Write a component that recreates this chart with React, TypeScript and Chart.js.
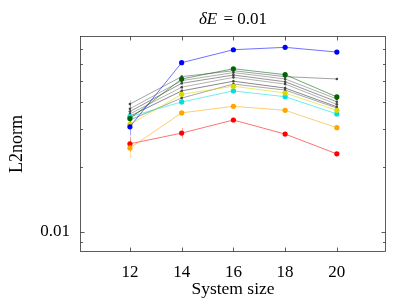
import React, { useEffect, useRef } from 'react';
import { Chart, registerables } from 'chart.js';

Chart.register(...registerables);

const systemSizes = [12, 14, 16, 18, 20];
const xTickValues = [12, 14, 16, 18, 20];
const yLabelTicks = [0.01];
const yMinorTicks = [0.009, 0.02, 0.03, 0.04, 0.05, 0.06, 0.07, 0.08];

const blueSeries = [0.0307, 0.0608, 0.0698, 0.0716, 0.0681];
const greenSeries = [0.0335, 0.0511, 0.057, 0.0535, 0.0422];
const yellowSeries = [0.0315, 0.0434, 0.0473, 0.044, 0.0366];
const cyanSeries = [0.0342, 0.04, 0.045, 0.0423, 0.0352];
const orangeSeries = [0.0245, 0.0356, 0.0382, 0.0366, 0.0304];
const redSeries = [0.0256, 0.0287, 0.033, 0.0284, 0.023];

const gray1 = [0.0391, 0.0524, 0.0558, 0.0524, 0.0511];
const gray2 = [0.0372, 0.0502, 0.0547, 0.0511, 0.0413];
const gray3 = [0.0361, 0.0488, 0.0533, 0.0496, 0.0401];
const gray4 = [0.0352, 0.0468, 0.052, 0.0484, 0.039];
const gray5 = [0.0344, 0.045, 0.0499, 0.0464, 0.038];
const gray6 = [0.033, 0.0417, 0.0484, 0.0454, 0.0375];

const blueErr = [0.0027, 0, 0, 0, 0];
const orangeErr = [0.0025, 0, 0, 0, 0];
const redErr = [0.002, 0.0016, 0, 0, 0];
const grayErr = [0.0015, 0.0009, 0.0009, 0.0009, 0];

const SERIF = '"Liberation Serif", "Times New Roman", serif';

function hexA(hex: string, a: number) {
  const n = parseInt(hex.slice(1), 16);
  return `rgba(${(n >> 16) & 255},${(n >> 8) & 255},${n & 255},${a})`;
}

function colored(data: number[], color: string, err: number[] | null) {
  return {
    data: data.map((y, i) => ({ x: systemSizes[i], y })),
    borderColor: hexA(color, 0.7),
    backgroundColor: color,
    pointBackgroundColor: color,
    pointBorderColor: color,
    borderWidth: 0.8,
    pointRadius: 2.6,
    pointBorderWidth: 0,
    tension: 0,
    err,
    errColor: color,
  };
}

function grayLine(data: number[], color: string) {
  return {
    data: data.map((y, i) => ({ x: systemSizes[i], y })),
    borderColor: color,
    backgroundColor: '#444',
    pointBackgroundColor: '#444',
    pointBorderColor: '#444',
    borderWidth: 0.8,
    pointRadius: 1.3,
    pointBorderWidth: 0,
    tension: 0,
    err: grayErr,
    errColor: '#555',
  };
}

const errorBars = {
  id: 'errorBars',
  beforeDatasetsDraw(chart: any) {
    const { ctx, scales } = chart;
    ctx.save();
    chart.data.datasets.forEach((ds: any) => {
      if (!ds.err) return;
      ctx.strokeStyle = ds.errColor;
      ctx.globalAlpha = 0.35;
      ctx.lineWidth = 1;
      ctx.beginPath();
      ds.data.forEach((p: any, i: number) => {
        const e = ds.err[i];
        if (!e) return;
        const px = Math.round(scales.x.getPixelForValue(p.x)) + 0.5;
        ctx.moveTo(px, scales.y.getPixelForValue(p.y + e));
        ctx.lineTo(px, scales.y.getPixelForValue(p.y - e));
      });
      ctx.stroke();
    });
    ctx.restore();
  },
};

const axisDecor = {
  id: 'axisDecor',
  afterDraw(chart: any) {
    const { ctx, chartArea: a, scales } = chart;
    ctx.save();
    ctx.strokeStyle = '#333';
    ctx.lineWidth = 0.8;
    const L = Math.round(a.left) + 0.5;
    const R = Math.round(a.right) - 0.5;
    const T = Math.round(a.top) + 0.5;
    const B = Math.round(a.bottom) - 0.5;
    ctx.strokeRect(L, T, R - L, B - T);
    ctx.beginPath();
    for (const v of xTickValues) {
      const px = Math.round(scales.x.getPixelForValue(v)) + 0.5;
      ctx.moveTo(px, B); ctx.lineTo(px, B - 4);
      ctx.moveTo(px, T); ctx.lineTo(px, T + 4);
    }
    for (const v of yLabelTicks) {
      const py = Math.round(scales.y.getPixelForValue(v)) + 0.5;
      ctx.moveTo(L, py); ctx.lineTo(L + 4, py);
      ctx.moveTo(R, py); ctx.lineTo(R - 4, py);
    }
    for (const v of yMinorTicks) {
      const py = Math.round(scales.y.getPixelForValue(v)) + 0.5;
      if (py <= T + 1 || py >= B - 1) continue;
      ctx.moveTo(L, py); ctx.lineTo(L + 2.5, py);
      ctx.moveTo(R, py); ctx.lineTo(R - 2.5, py);
    }
    ctx.stroke();

    // title
    const cx = (a.left + a.right) / 2;
    const cy = 19.5;
    const italicFont = `italic 17px ${SERIF}`;
    const romanFont = `17px ${SERIF}`;
    const p1 = '\u03B4E';
    const p2 = ' = 0.01';
    ctx.font = italicFont;
    const w1 = ctx.measureText(p1).width;
    ctx.font = romanFont;
    const w2 = ctx.measureText(p2).width;
    const x0 = cx - (w1 + w2 + 2) / 2;
    ctx.fillStyle = '#000';
    ctx.textBaseline = 'middle';
    ctx.textAlign = 'left';
    ctx.font = italicFont;
    ctx.fillText(p1, x0, cy);
    ctx.font = romanFont;
    ctx.fillText(p2, x0 + w1 + 2, cy);
    ctx.restore();
  },
};

export default function App() {
  const ref = useRef<HTMLCanvasElement>(null);
  useEffect(() => {
    document.body.style.margin = '0';
    const canvas = ref.current!;
    const chart = new Chart(canvas, {
      type: 'line',
      data: {
        datasets: [
          colored(blueSeries, '#0000ff', blueErr),
          colored(greenSeries, '#006400', null),
          colored(yellowSeries, '#d9d900', null),
          colored(cyanSeries, '#00dede', null),
          colored(orangeSeries, '#ffa500', orangeErr),
          colored(redSeries, '#ff0000', redErr),
          grayLine(gray1, '#8a8a8a'),
          grayLine(gray2, '#9a9a9a'),
          grayLine(gray3, '#7a7a7a'),
          grayLine(gray4, '#a0a0a0'),
          grayLine(gray5, '#6a6a6a'),
          grayLine(gray6, '#909090'),
        ] as any,
      },
      options: {
        animation: false,
        responsive: false,
        parsing: false as any,
        layout: { padding: { top: 36, right: 13, left: 0, bottom: 0 } },
        plugins: { legend: { display: false }, tooltip: { enabled: false }, title: { display: false } },
        scales: {
          x: {
            type: 'linear',
            min: 10.07,
            max: 21.9,
            afterBuildTicks: (s: any) => { s.ticks = xTickValues.map((v) => ({ value: v })); },
            afterFit: (s: any) => { s.height = 51; },
            grid: { display: true, drawOnChartArea: false, drawTicks: false, color: 'rgba(0,0,0,0)' },
            border: { display: false },
            ticks: { color: '#000', padding: 10, font: { family: SERIF, size: 17 }, maxRotation: 0, callback: (v: any) => String(v) },
            title: { display: true, text: 'System size', color: '#000', font: { family: SERIF, size: 17.5 }, padding: { top: 0, bottom: 3 } },
          },
          y: {
            type: 'logarithmic',
            min: 0.00808,
            max: 0.0808,
            afterBuildTicks: (s: any) => { s.ticks = yLabelTicks.map((v) => ({ value: v })); },
            afterFit: (s: any) => { s.width = 80; },
            grid: { display: true, drawOnChartArea: false, drawTicks: false, color: 'rgba(0,0,0,0)' },
            border: { display: false },
            ticks: { color: '#000', padding: 10, font: { family: SERIF, size: 17 }, callback: (v: any) => String(v) },
            title: { display: true, text: 'L2norm', color: '#000', font: { family: SERIF, size: 18 }, padding: { top: 6, bottom: 0 } },
          },
        },
      } as any,
      plugins: [errorBars, axisDecor],
    });
    return () => chart.destroy();
  }, []);
  return <canvas ref={ref} width={399} height={303} style={{ display: 'block' }} />;
}
